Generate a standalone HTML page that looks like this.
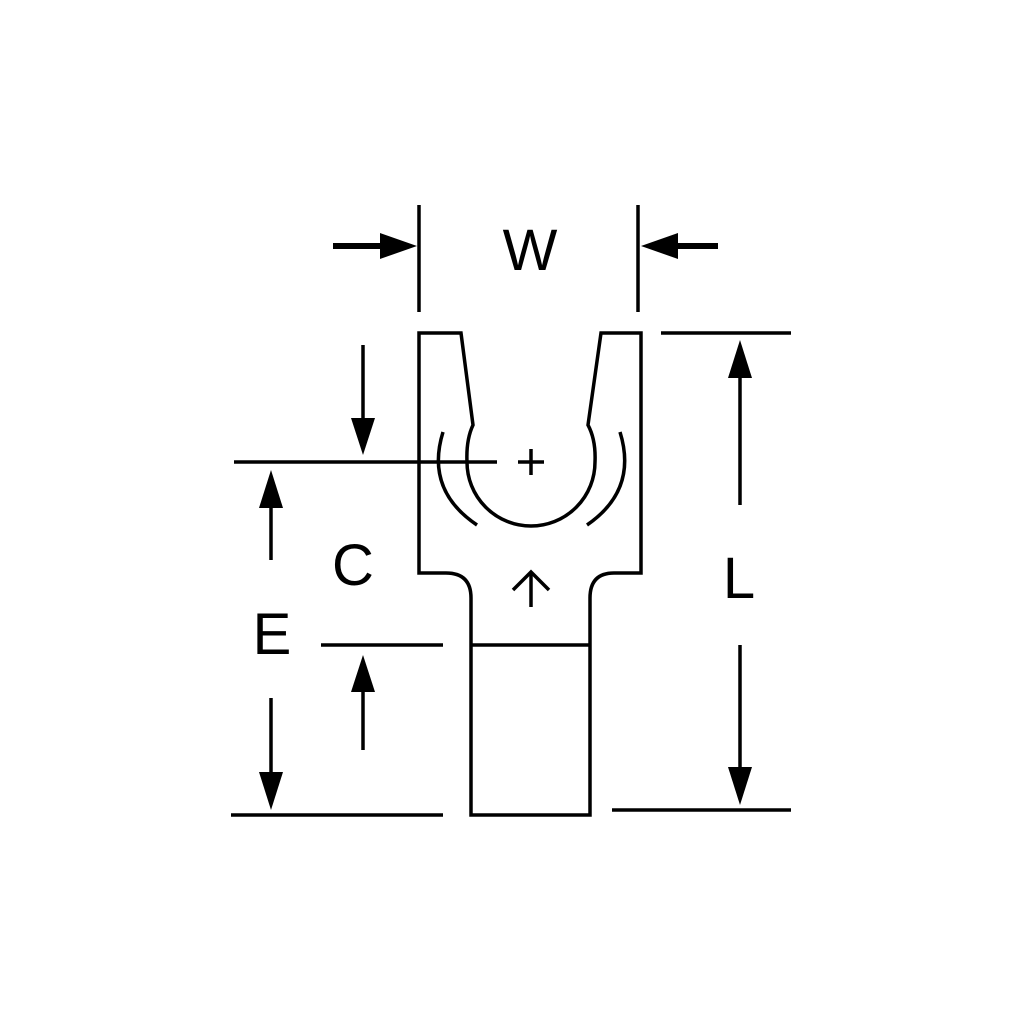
<!DOCTYPE html>
<html><head><style>body{margin:0;background:#fff}svg{display:block}</style></head><body>
<svg width="1024" height="1024" viewBox="0 0 1024 1024" xmlns="http://www.w3.org/2000/svg">
<rect width="1024" height="1024" fill="#fff"/>
<g fill="none" stroke="#000" stroke-width="3.5" stroke-linejoin="miter">
<!-- terminal outline -->
<path d="M471,815 L471,598 Q471,573 446,573 L419,573 L419,333 L461,333 L473,425 Q466,440 467,462 A64,64 0 0 0 595,462 Q596,440 588,425 L601,333 L641,333 L641,573 L614,573 Q590,573 590,598 L590,815 Z"/>
<line x1="471" y1="645" x2="590" y2="645"/>
<path d="M443,432 Q425,490 477,525"/>
<path d="M620,432 Q638,490 587,525"/>
<!-- plus -->
<line x1="518" y1="462" x2="544" y2="462"/>
<line x1="531" y1="449" x2="531" y2="475"/>
<!-- up arrow inside -->
<line x1="531" y1="607" x2="531" y2="573"/>
<path d="M513,590 L531,572 L549,590"/>
<!-- W extension lines -->
<line x1="419" y1="205" x2="419" y2="312"/>
<line x1="638" y1="205" x2="638" y2="312"/>
<!-- C line -->
<line x1="234" y1="462" x2="497" y2="462"/>
<line x1="321" y1="645" x2="443" y2="645"/>
<line x1="231" y1="815" x2="443" y2="815"/>
<line x1="661" y1="333" x2="791" y2="333"/>
<line x1="612" y1="810" x2="791" y2="810"/>
<!-- dimension lines -->
<line x1="363" y1="345" x2="363" y2="425"/>
<line x1="363" y1="690" x2="363" y2="750"/>
<line x1="271" y1="505" x2="271" y2="560"/>
<line x1="271" y1="698" x2="271" y2="775"/>
<line x1="740" y1="375" x2="740" y2="505"/>
<line x1="740" y1="645" x2="740" y2="770"/>
</g>
<g fill="#000" stroke="none">
<rect x="333" y="243" width="50" height="6"/>
<polygon points="380,233 417,246 380,259"/>
<rect x="675" y="243" width="43" height="6"/>
<polygon points="678,233 641,246 678,259"/>
<polygon points="351,418 375,418 363,455"/>
<polygon points="351,692 375,692 363,655"/>
<polygon points="259,508 283,508 271,470"/>
<polygon points="259,772 283,772 271,810"/>
<polygon points="728,378 752,378 740,340"/>
<polygon points="728,767 752,767 740,805"/>
</g>
<g font-family="Liberation Sans, sans-serif" font-size="58" fill="#000" text-anchor="middle">
<text x="530" y="270">W</text>
<text x="353" y="585">C</text>
<text x="272" y="654">E</text>
<text x="739" y="598">L</text>
</g>
</svg>
</body></html>
